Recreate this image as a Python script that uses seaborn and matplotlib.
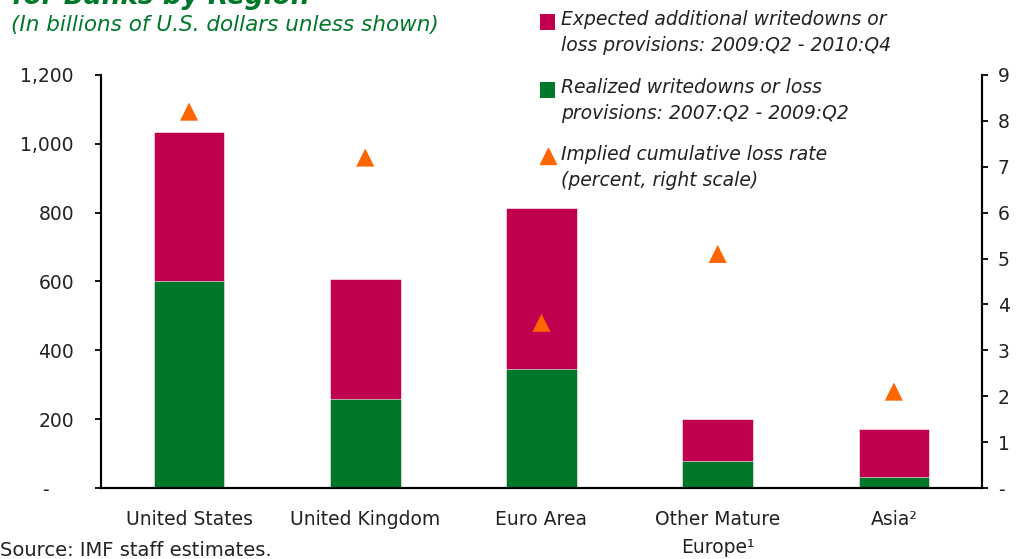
import numpy as np
import pandas as pd
import matplotlib
matplotlib.use('Agg')
import matplotlib.pyplot as plt
import seaborn as sns
from matplotlib.patches import Rectangle
from matplotlib.lines import Line2D
from matplotlib.ticker import FuncFormatter, FixedLocator

# chart data
regions = ['United States', 'United Kingdom', 'Euro Area', 'Other Mature\nEurope\u00b9', 'Asia\u00b2']
realized = [602, 259, 346, 77, 32]
expected_additional = [431, 348, 467, 124, 140]
loss_rate = [8.2, 7.2, 3.6, 5.1, 2.1]

legend_labels = [
    'Expected additional writedowns or\nloss provisions: 2009:Q2 - 2010:Q4',
    'Realized writedowns or loss\nprovisions: 2007:Q2 - 2009:Q2',
    'Implied cumulative loss rate\n(percent, right scale)',
]

df = pd.DataFrame({'region': regions, 'realized': realized,
                   'expected': expected_additional, 'rate': loss_rate})
df['total'] = df['realized'] + df['expected']
df['pos'] = np.arange(len(df))

sns.set_style('white')
plt.rcParams['font.family'] = ['DejaVu Sans']

red = '#C0004F'
green = '#00782A'
orange = '#FF6600'
text_col = '#222222'

W, H = 1018, 559
fig = plt.figure(figsize=(W / 100, H / 100), dpi=100)
ax = fig.add_axes([0.0992, 0.127, 0.8654, 0.739])

sns.barplot(data=df, x='region', y='total', color=red, width=0.4,
            saturation=1, ax=ax, order=regions)
sns.barplot(data=df, x='region', y='realized', color=green, width=0.4,
            saturation=1, ax=ax, order=regions)
for p in ax.patches:
    p.set_edgecolor('white')
    p.set_linewidth(0.4)

ax.set_xlim(-0.5, len(regions) - 0.5)
ax.set_ylim(0, 1200)
ax.set_yticks(range(0, 1201, 200))
ax.yaxis.set_major_formatter(FuncFormatter(lambda v, _: '-    ' if v == 0 else f'{int(v):,}'))
ax.set_xlabel('')
ax.set_ylabel('')

# category labels centred, ticks at category boundaries
ax.set_xticks(df['pos'])
ax.set_xticklabels(regions, fontsize=13.5, color=text_col, linespacing=1.6)
ax.tick_params(axis='x', which='major', length=0, pad=16)
ax.xaxis.set_minor_locator(FixedLocator(np.arange(-0.5, len(regions), 1.0)))
ax.tick_params(axis='x', which='minor', length=7, width=1.3, direction='inout', color='black')
ax.tick_params(axis='y', length=4.5, width=1.3, direction='out', color='black',
               labelsize=13.5, labelcolor=text_col, pad=15, left=True)

for s in ['left', 'right', 'bottom']:
    ax.spines[s].set_color('black')
    ax.spines[s].set_linewidth(1.5)
ax.spines['top'].set_visible(False)

ax2 = ax.twinx()
sns.scatterplot(data=df, x='pos', y='rate', marker='^', s=170, color=orange,
                edgecolor='none', ax=ax2, legend=False, zorder=5)
ax2.set_ylim(0, 9)
ax2.set_yticks(range(0, 10))
ax2.yaxis.set_major_formatter(FuncFormatter(lambda v, _: '-' if v == 0 else f'{int(v)}'))
ax2.set_ylabel('')
ax2.tick_params(axis='y', length=4.5, width=1.3, direction='out', color='black',
                labelsize=13.5, labelcolor=text_col, pad=7)
for s in ['left', 'right', 'bottom']:
    ax2.spines[s].set_color('black')
    ax2.spines[s].set_linewidth(1.5)
ax2.spines['top'].set_visible(False)
ax2.set_xlim(-0.5, len(regions) - 0.5)

# legend, keys aligned with the first line of each label (pixel layout from top)
def fx(px):
    return px / W

def fy(py):
    return 1 - py / H

key_x = 540
text_x = 561
first_line_y = [20, 88, 155]
fig.add_artist(Rectangle((fx(key_x), fy(30)), fx(15), 16 / H, transform=fig.transFigure,
                         facecolor=red, edgecolor='none'))
fig.add_artist(Rectangle((fx(key_x), fy(98)), fx(15), 16 / H, transform=fig.transFigure,
                         facecolor=green, edgecolor='none'))
fig.add_artist(Line2D([fx(key_x + 7.5)], [fy(156)], transform=fig.transFigure,
                      marker='^', linestyle='none', color=orange, markersize=11))
for lab, y0 in zip(legend_labels, first_line_y):
    fig.text(fx(text_x), fy(y0 + 12.5), lab, fontsize=13.5, fontstyle='italic',
             color=text_col, va='center', ha='left', linespacing=1.48)

# titles and source (title is cut off by the top edge, as in the original)
fig.text(0.012, fy(4), 'for Banks by Region', color=green, fontsize=19,
         fontweight='bold', fontstyle='italic', va='baseline', ha='left')
fig.text(0.011, 0.955, '(In billions of U.S. dollars unless shown)', color=green,
         fontsize=15.5, fontstyle='italic', va='center', ha='left')
fig.text(0.0, 0.016, 'Source: IMF staff estimates.', color=text_col,
         fontsize=14, va='center', ha='left')

fig.savefig('out.png', dpi=100)
